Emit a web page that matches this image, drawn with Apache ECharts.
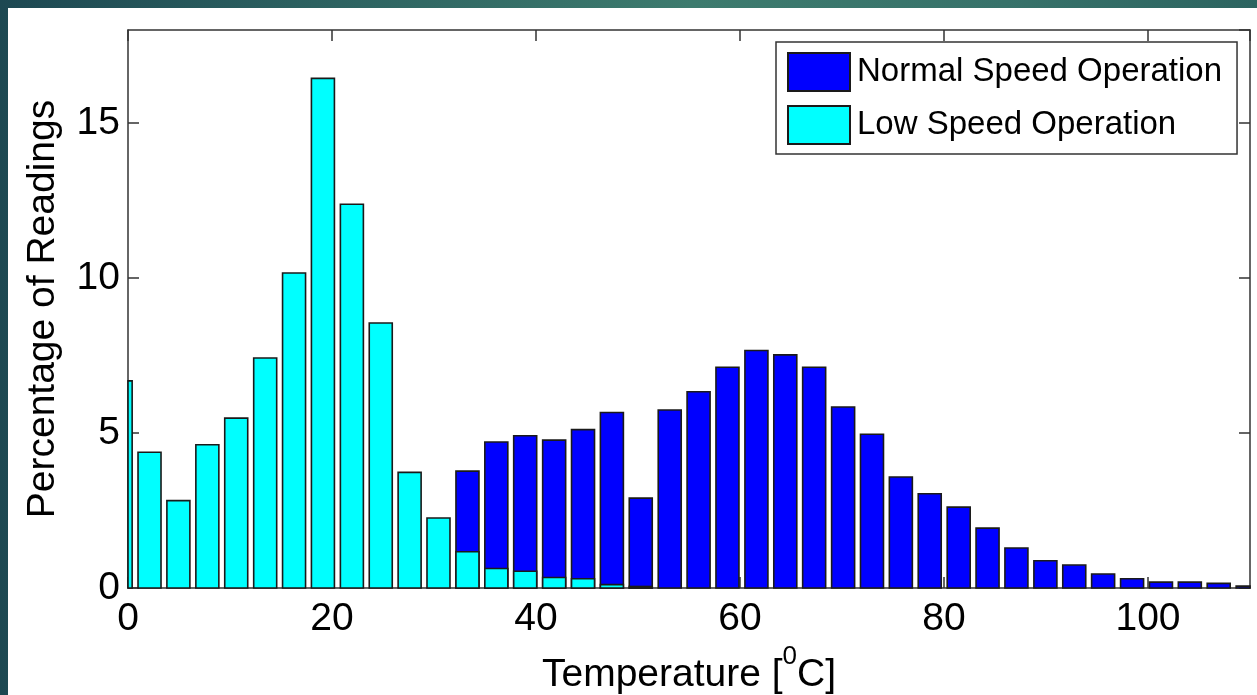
<!DOCTYPE html>
<html>
<head>
<meta charset="utf-8">
<script src="https://cdn.jsdelivr.net/npm/echarts@6/dist/echarts.min.js"></script>
<style>
html, body { margin: 0; padding: 0; width: 1257px; height: 695px; overflow: hidden;
  background: linear-gradient(90deg, #1d4852 0%, #2c6160 25%, #3d7b6e 55%, #37726a 80%, #2c6460 100%); }
#chart { position: absolute; left: 8px; top: 8px; width: 1249px; height: 687px; background: #ffffff; }
</style>
</head>
<body>
<div id="chart"></div>
<script>
// Histogram bin centres (Temperature, deg C)
var binCenters = [-0.72, 2.11, 4.94, 7.78, 10.61, 13.45, 16.28, 19.11, 21.95, 24.78,
  27.61, 30.44, 33.28, 36.11, 38.94, 41.78, 44.61, 47.44, 50.27, 53.11,
  55.94, 58.77, 61.61, 64.44, 67.27, 70.11, 72.94, 75.77, 78.60, 81.44,
  84.27, 87.10, 89.94, 92.77, 95.60, 98.44, 101.27, 104.10, 106.93, 109.77];

// Percentage of readings
var normalSpeed = [null, null, null, null, null, null, null, null, null, null,
  null, null, 3.77, 4.71, 4.91, 4.77, 5.11, 5.66, 2.90, 5.74,
  6.33, 7.12, 7.66, 7.52, 7.12, 5.84, 4.96, 3.58, 3.04, 2.61,
  1.93, 1.29, 0.88, 0.74, 0.45, 0.30, 0.19, 0.19, 0.15, 0.06];

var lowSpeed = [6.68, 4.38, 2.82, 4.62, 5.48, 7.42, 10.16, 16.44, 12.38, 8.55,
  3.73, 2.26, 1.17, 0.63, 0.54, 0.34, 0.30, 0.11, 0.05, null,
  null, null, null, null, null, null, null, null, null, null,
  null, null, null, null, null, null, null, null, null, null];

var seriesNames = ['Normal Speed Operation', 'Low Speed Operation'];
var xTickStep = 20, yTickStep = 5;
var xRange = [0, 110], yRange = [0, 18];

function pairs(vals) {
  return binCenters.map(function (x, i) { return [x, vals[i] == null ? '-' : vals[i]]; });
}

var FONT = "'Liberation Sans', Arial, sans-serif";
var frameColor = '#333333';
var barBorder = '#1a1a1a';
var BAR_PX = 23;

function renderBar(params, api) {
  var y = api.value(1);
  if (y == null || isNaN(y)) return;
  var x = api.value(0);
  var top = api.coord([x, y]);
  var base = api.coord([x, 0]);
  var cs = params.coordSys;
  var rect = echarts.graphic.clipRectByRect(
    { x: top[0] - BAR_PX / 2, y: top[1], width: BAR_PX, height: base[1] - top[1] },
    { x: cs.x, y: cs.y, width: cs.width, height: cs.height }
  );
  if (!rect) return;
  return {
    type: 'rect',
    shape: rect,
    style: { fill: api.visual('color'), stroke: barBorder, lineWidth: 1.6 }
  };
}

function axisCommon(extra) {
  var base = {
    type: 'value',
    splitLine: { show: false },
    axisLine: { show: true, onZero: false, lineStyle: { color: frameColor, width: 1.5 } },
    axisTick: { show: true, inside: true, length: 11, lineStyle: { color: frameColor, width: 1.5 } }
  };
  for (var k in extra) base[k] = extra[k];
  return base;
}

var chart = echarts.init(document.getElementById('chart'), null, { renderer: 'canvas' });
chart.setOption({
  animation: false,
  backgroundColor: '#ffffff',
  textStyle: { fontFamily: FONT },
  grid: { left: 120, top: 22, right: 7, bottom: 107, containLabel: false, outerBoundsMode: 'none' },
  legend: {
    data: seriesNames,
    orient: 'vertical',
    left: 768, top: 34,
    padding: [10, 15, 9, 11],
    itemGap: 13,
    itemWidth: 62, itemHeight: 38,
    icon: 'rect',
    backgroundColor: '#ffffff',
    borderColor: frameColor, borderWidth: 1.5,
    textStyle: { fontSize: 33, color: '#000', fontFamily: FONT, padding: [0, 0, 0, 2] }
  },
  xAxis: [
    axisCommon({
      min: xRange[0], max: xRange[1], interval: xTickStep, position: 'bottom',
      name: '{t|Temperature [}{s|0}{t|C]}',
      nameLocation: 'middle', nameGap: 54,
      nameTextStyle: {
        color: '#000', fontSize: 39, fontFamily: FONT,
        rich: {
          t: { fontSize: 39, color: '#000', fontFamily: FONT, verticalAlign: 'bottom' },
          s: { fontSize: 26, color: '#000', fontFamily: FONT, verticalAlign: 'bottom', padding: [0, 0, 25, 0] }
        }
      },
      axisLabel: { show: true, fontSize: 39, color: '#000', fontFamily: FONT, margin: 12, showMaxLabel: false }
    }),
    axisCommon({
      min: xRange[0], max: xRange[1], interval: xTickStep, position: 'top',
      axisLabel: { show: false }
    })
  ],
  yAxis: [
    axisCommon({
      min: yRange[0], max: yRange[1], interval: yTickStep, position: 'left',
      name: 'Percentage of Readings',
      nameLocation: 'middle', nameGap: 65, nameRotate: 90,
      nameTextStyle: { color: '#000', fontSize: 39, fontFamily: FONT },
      axisLabel: { show: true, fontSize: 39, color: '#000', fontFamily: FONT, margin: 8, showMaxLabel: false }
    }),
    axisCommon({
      min: yRange[0], max: yRange[1], interval: yTickStep, position: 'right',
      axisLabel: { show: false }
    })
  ],
  series: [{
    name: seriesNames[0], type: 'custom', xAxisIndex: 0, yAxisIndex: 0,
    renderItem: renderBar,
    encode: { x: 0, y: 1 },
    data: pairs(normalSpeed),
    itemStyle: { color: '#0000ff', borderColor: barBorder, borderWidth: 1.5 },
    z: 3
  }, {
    name: seriesNames[1], type: 'custom', xAxisIndex: 0, yAxisIndex: 0,
    renderItem: renderBar,
    encode: { x: 0, y: 1 },
    data: pairs(lowSpeed),
    itemStyle: { color: '#00ffff', borderColor: barBorder, borderWidth: 1.5 },
    z: 4
  }]
});
</script>
</body>
</html>
